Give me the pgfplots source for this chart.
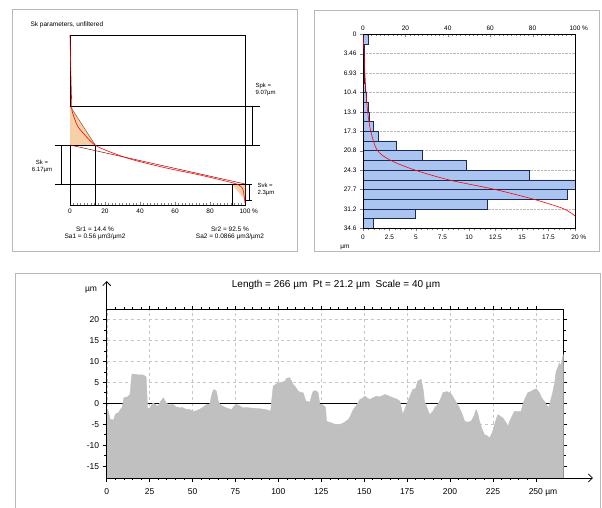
\documentclass[border=0pt]{standalone}
\usepackage{pgfplots}
\pgfplotsset{compat=1.18}
\usepackage{fontspec}
\setmainfont{Liberation Sans}
\usetikzlibrary{arrows.meta}
\definecolor{profgrey}{RGB}{192,192,192}
\definecolor{barblue}{RGB}{170,198,240}
\definecolor{baredge}{RGB}{30,40,90}
\definecolor{peach}{RGB}{248,208,168}
\definecolor{panelgrey}{RGB}{185,185,185}
\begin{document}
\begin{tikzpicture}
\useasboundingbox (0pt,0pt) rectangle (602pt,508pt);
\fill[white] (0pt,0pt) rectangle (602pt,508pt);
\draw[panelgrey] (12pt,257pt) rectangle (297pt,499pt);
\draw[panelgrey] (314pt,257pt) rectangle (599pt,498pt);
\draw[panelgrey] (15pt,-3pt) rectangle (600pt,235pt);

% ---------------- Top-left: Sk parameters
\begin{axis}[at={(70pt,303pt)}, anchor=south west, scale only axis,
  width=175pt, height=170pt, xmin=0, xmax=100, ymin=0, ymax=34.6, y dir=reverse,
  ytick=\empty, xtick={0,20,40,60,80,100}, xticklabels={0,20,40,60,80,{100\rlap{ \%}}},
  minor x tick num=9, tick align=inside, xtick pos=lower, xticklabel pos=lower,
  major tick length=3pt, minor tick length=2pt,
  /pgf/number format/assume math mode=true,
  tick label style={font=\fontsize{6.5}{7}\selectfont},
  axis line style={line width=0.6pt}, clip=false]
\addplot[fill=peach, draw=none] coordinates {(0,14.45) (0,22.39) (14.4,22.39)};
\addplot[fill=peach, draw=none] coordinates {(92.5,30.32) (100,30.32) (100,33.6)};
\addplot[brown!70!black, line width=0.5pt] coordinates {(0,14.45) (14.4,22.39)};
\addplot[black, line width=0.5pt] coordinates {(0,14.45) (108.6,14.45)};
\addplot[black, line width=0.5pt] coordinates {(-8.6,22.39) (108.6,22.39)};
\addplot[black, line width=0.5pt] coordinates {(-8.6,30.32) (104,30.32)};
\addplot[black, line width=0.5pt] coordinates {(14.4,22.39) (14.4,34.6)};
\addplot[black, line width=0.5pt] coordinates {(92.5,30.32) (92.5,34.6)};
\addplot[black, line width=0.5pt] coordinates {(-5.1,22.39) (-5.1,30.32)};
\addplot[black, line width=0.5pt] coordinates {(104,14.45) (104,22.39)};
\addplot[black, line width=0.5pt] coordinates {(100,33.6) (104,33.6)};
\addplot[black, line width=0.5pt] coordinates {(102.3,30.32) (102.3,33.6)};
\addplot[red!60!black, line width=0.5pt] coordinates {(0,22.39) (100,30.32)};
\addplot[red, line width=0.6pt, smooth] coordinates {(0,0) (0.3,5.1) (0.6,9.2) (0.9,13.2) (1.1,15.3) (2.9,17.3) (4.6,18.7) (8.6,20.4) (14.3,22.4) (22.9,23.8) (36,25.4) (55.4,27.1) (74.3,28.5) (93.1,30.1) (97.1,30.7) (98.9,31.5) (100,34.2)};
\end{axis}

% ---------------- Top-right: histogram
\begin{axis}[at={(363pt,279.7pt)}, anchor=south west, scale only axis,
  width=212pt, height=194pt, xmin=0, xmax=20, ymin=0, ymax=34.6, y dir=reverse,
  xbar, bar width=1.73,
  xtick={0,2.5,5,7.5,10,12.5,15,17.5,20},
  xticklabels={0,2.5,5,7.5,10,12.5,15,17.5,{20\rlap{ \%}}},
  minor x tick num=4,
  ytick={0,3.46,6.92,10.38,13.84,17.3,20.76,24.22,27.68,31.14,34.6},
  yticklabels={0,3.46,6.93,10.4,13.9,17.3,20.8,24.3,27.7,31.2,34.6},
  ymajorgrids, major grid style={gray!55, densely dotted},
  xtick pos=lower, xticklabel pos=lower, ytick pos=left,
  tick align=outside, major tick length=3pt, minor tick length=2pt,
  /pgf/number format/assume math mode=true,
  tick label style={font=\fontsize{6.5}{7}\selectfont},
  axis line style={line width=0.6pt}, clip=false]
\addplot[fill=barblue, draw=baredge, line width=0.5pt] coordinates {
(0.47,0.865) (0.15,2.595) (0.1,4.325) (0.12,6.055) (0.15,7.785) (0.2,9.515) (0.3,11.245) (0.45,12.975)
(0.6,14.705) (0.95,16.435) (1.4,18.165) (3.15,19.895) (5.57,21.625) (9.76,23.355) (15.7,25.085)
(20.0,26.815) (19.3,28.545) (11.75,30.275) (4.9,32.005) (1.0,33.735)};
\end{axis}
\begin{axis}[at={(363pt,279.7pt)}, anchor=south west, scale only axis,
  width=212pt, height=194pt, xmin=0, xmax=100, ymin=0, ymax=34.6, y dir=reverse,
  xtick={0,20,40,60,80,100}, xticklabels={0,20,40,60,80,{100\rlap{ \%}}},
  minor x tick num=9, ytick=\empty,
  xtick pos=upper, xticklabel pos=upper,
  tick align=inside, major tick length=3pt, minor tick length=2pt,
  /pgf/number format/assume math mode=true,
  tick label style={font=\fontsize{6.5}{7}\selectfont},
  axis line style={line width=0.6pt}]
\addplot[red, line width=0.6pt, smooth] coordinates {(0,0) (0.5,3.39) (0.9,6.84) (1.4,10.2) (2.2,13.8) (3.6,17.2) (6.6,20.6) (12.6,22.4) (24.4,24.2) (40.9,26.0) (61.4,27.6) (80.3,29.4) (94.5,31.1) (100,32.4)};
\end{axis}

% ---------------- Bottom: profile
\begin{axis}[at={(106.7pt,30pt)}, anchor=south west, scale only axis,
  width=456.6pt, height=168.3pt, xmin=0, xmax=266, ymin=-17.8, ymax=22.3,
  xtick={0,25,50,75,100,125,150,175,200,225,250},
  xticklabels={0,25,50,75,100,125,150,175,200,225,{250\rlap{ µm}}},
  ytick={-15,-10,-5,0,5,10,15,20},
  yticklabels={-15,-10,-5,0,5,10,15,20},
  minor x tick num=4, minor y tick num=1,
  tick align=outside, grid=major, major grid style={dashed, gray!45},
  axis line style={line width=0.8pt}, tick style={black, line width=0.6pt},
  major tick length=4pt, minor tick length=2.5pt,
  /pgf/number format/assume math mode=true,
  tick label style={font=\fontsize{8.5}{10}\selectfont},
  xticklabel style={yshift=-3pt},
  clip=false]
\addplot[black, line width=1.2pt] coordinates {(0,0) (266,0)};
\addplot[fill=profgrey, draw=profgrey] coordinates {
(0,-17.8) (0,-1.5) (1,-2.0) (2,-3.8) (4,-4.0) (5,-2.6) (7,-2.2) (8,-1.4) (9,-1.0) (10,1.3) (12,1.5)
(13.6,2.1) (14.5,6.5) (15,7.0) (18,6.8) (21,6.8) (23,6.3) (23.8,-1.1) (25,-1.2) (27,0.1) (29,-0.5)
(30,-0.7) (31.5,0.5) (33,1.3) (34.5,0.2) (36,-0.4) (38.8,-0.3) (40,-0.8) (42.7,-1.1) (44,-1.0)
(46.5,-1.5) (48,-1.4) (50.4,-1.9) (52,-1.8) (54.3,-1.4) (56,-1.0) (58,-0.3) (60,-0.2) (61.5,2.5)
(62.5,3.3) (63.9,2.9) (65,0.5) (66,-0.3) (68,-0.8) (69.7,-1.1) (72.7,-1.5) (74,-0.8) (75.6,-0.3)
(77,-0.5) (79.5,-1.1) (81,-1.0) (83.3,-1.1) (86,-1.2) (89,-1.3) (91,-1.4) (93,-1.5) (95.5,-1.9)
(96.2,1.0) (97,4.1) (99.9,4.9) (102,5.0) (103.8,5.3) (105,6.0) (106.5,6.1) (107.7,5.3) (108.5,4.5)
(109.6,4.1) (111.5,2.9) (113,2.6) (114.5,2.5) (116,0.5) (118.4,0.3) (119.5,2.0) (120.3,2.9) (122,3.0)
(123.2,2.5) (124.2,-0.3) (126,-0.4) (127.5,-1.0) (128.1,-4.3) (131,-4.7) (133.9,-5.1) (136,-5.0)
(137.8,-4.7) (140.7,-3.9) (142,-3.0) (143.6,-1.5) (145.5,-0.5) (147.5,0.9) (149,1.2) (150.4,1.7)
(152,1.2) (153.3,0.9) (155,1.3) (157.2,1.7) (159,1.5) (162.1,2.1) (164,1.8) (166.9,1.3) (169,1.0)
(170.8,0.5) (172.5,-2.7) (174,-1.0) (175.4,0.5) (177,2.0) (178.3,3.3) (180,3.5) (181.2,5.3)
(183.2,5.7) (184.5,3.0) (185.1,0.5) (187,-1.5) (188.1,-2.7) (190,-2.0) (191,-1.1) (192.5,-0.5)
(193.9,0.5) (195,1.5) (195.8,2.5) (198,2.8) (199.7,2.5) (201,2.0) (202.6,0.9) (204,0.0) (205.5,-1.1)
(207,-2.5) (208.5,-4.3) (210,-4.5) (212.3,-4.3) (214,-3.0) (215.2,-1.5) (216.2,-2.5) (217.2,-4.3)
(218.5,-6.0) (220.1,-7.5) (222,-7.8) (223,-8.3) (224.9,-6.7) (226,-5.0) (227.8,-2.7) (229,-3.0)
(230.8,-3.5) (232.5,-4.5) (233.7,-5.5) (235,-4.0) (237.6,-1.9) (239,-1.9) (241.4,-1.9) (243,0.5)
(245.3,2.5) (247,2.8) (249.2,3.3) (250.5,3.4) (252.1,2.5) (253.5,1.2) (255,0.5) (256.5,-0.5)
(257.5,-1.1) (258.5,0.5) (259.8,2.5) (261,5.0) (261.8,7.6) (262.8,8.5) (263.7,9.6) (264.5,9.0)
(265.7,11.2) (266,11.5) (266,-17.8)};
\draw[line width=0.8pt, -{Straight Barb[length=4pt]}] (rel axis cs:0,0) -- (rel axis cs:0,1.17);
\draw[line width=0.8pt, -{Straight Barb[length=4pt]}] (rel axis cs:0,0) -- (rel axis cs:1.065,0);
\end{axis}

% ---------------- texts
\node[anchor=west, font=\fontsize{6.5}{7}\selectfont] at (27pt,483pt) {Sk parameters, unfiltered};
\node[align=center, font=\fontsize{6}{7}\selectfont] at (42pt,342pt) {Sk =\\6.17µm};
\node[align=left, anchor=west, font=\fontsize{6}{7}\selectfont] at (252pt,419pt) {Spk =\\9.07µm};
\node[align=left, anchor=west, font=\fontsize{6}{7}\selectfont] at (254pt,319pt) {Svk =\\2.3µm};
\node[align=center, font=\fontsize{6.5}{7.5}\selectfont] at (95pt,274.5pt) {Sr1 = 14.4 \%\\Sa1 = 0.56 µm3/µm2};
\node[align=center, font=\fontsize{6.5}{7.5}\selectfont] at (230pt,274.5pt) {Sr2 = 92.5 \%\\Sa2 = 0.0866 µm3/µm2};
\node[font=\fontsize{6.5}{7}\selectfont] at (345pt,261pt) {µm};
\node[font=\fontsize{10}{11}\selectfont] at (336pt,223.3pt) {Length = 266 µm\ \ Pt = 21.2 µm\ \ Scale = 40 µm};
\node[font=\fontsize{8.5}{10}\selectfont] at (91pt,218pt) {µm};
\end{tikzpicture}
\end{document}
